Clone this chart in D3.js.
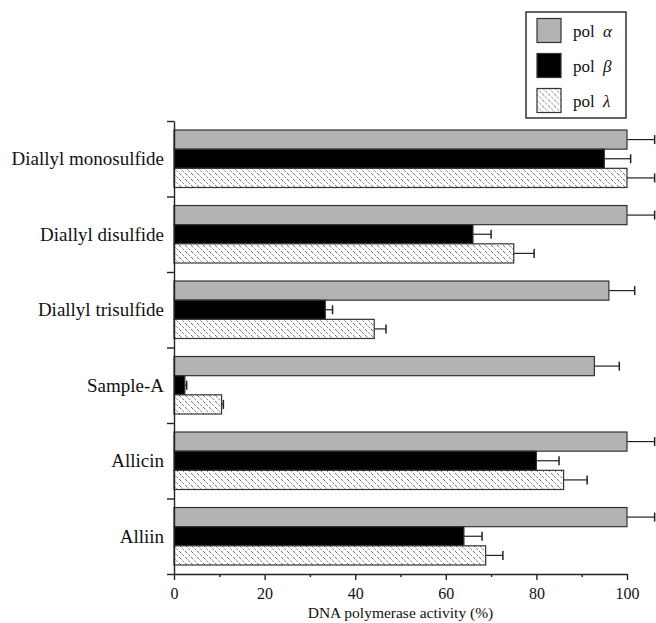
<!DOCTYPE html>
<html>
<head>
<meta charset="utf-8">
<script src="https://cdn.jsdelivr.net/npm/d3@7"></script>
<style>
  body { margin: 0; background: #fff; }
  svg text { font-family: "Liberation Serif", "DejaVu Serif", serif; fill: #111; }
</style>
</head>
<body>
<svg id="chart"></svg>
<script>
/* données */
const categories = ["Diallyl monosulfide", "Diallyl disulfide", "Diallyl trisulfide", "Sample-A", "Allicin", "Alliin"]
const seriesKeys = ["alpha", "beta", "lambda"]
const seriesGreek = ["α", "β", "λ"]
const polAlpha = [100, 100, 96, 92.8, 100, 100]
const polAlphaErr = [6.1, 6.1, 5.7, 5.5, 6.1, 6.1]
const polBeta = [95, 66, 33.4, 2.4, 80, 64]
const polBetaErr = [5.8, 4, 1.6, 0.4, 5, 4]
const polLambda = [100, 75, 44.2, 10.5, 86, 68.8]
const polLambdaErr = [6.1, 4.5, 2.6, 0.4, 5.2, 3.8]
const xMajorTicks = [0, 20, 40, 60, 80, 100]
const xMinorTicks = [10, 30, 50, 70, 90]

const width = 656, height = 623
const margin = {top: 121, right: 29, bottom: 49, left: 174}
const serif = '"Liberation Serif", "DejaVu Serif", serif'

const svg = d3.select('#chart').attr('width', width).attr('height', height)

const values = { alpha: polAlpha, beta: polBeta, lambda: polLambda }
const errors = { alpha: polAlphaErr, beta: polBetaErr, lambda: polLambdaErr }

/* échelles */
const xScale = d3.scaleLinear().domain([0, 100]).range([margin.left, width - margin.right])
const yScale = d3.scaleBand().domain(categories).range([margin.top, height - margin.bottom])
const yInner = d3.scaleBand().domain(seriesKeys).range([0, yScale.bandwidth()]).paddingOuter(0.47)
const yBounds = d3.scaleLinear().domain([0, categories.length]).range([margin.top, height - margin.bottom])

/* motif hachuré pour pol lambda */
const defs = svg.append('defs')
const pat = defs.append('pattern')
  .attr('id', 'hatch')
  .attr('patternUnits', 'userSpaceOnUse')
  .attr('width', 6).attr('height', 6)
pat.append('rect').attr('width', 6).attr('height', 6).attr('fill', '#fff')
pat.append('path')
  .attr('d', 'M0,0 L6,6 M-3,3 L3,9 M3,-3 L9,3')
  .attr('stroke', '#333')
  .attr('stroke-width', 1)
  .attr('stroke-dasharray', '1,1.4')

const fills = { alpha: '#b3b3b3', beta: '#000', lambda: 'url(#hatch)' }

/* barres */
const rows = []
categories.forEach((c, i) => {
  seriesKeys.forEach(k => rows.push({ cat: c, key: k, v: values[k][i], e: errors[k][i] }))
})

const g = svg.append('g')

/* barres d'erreur (derrière) */
g.selectAll('.err')
  .data(rows)
  .enter()
  .append('g')
  .attr('class', 'err')
  .each(function (d) {
    const yc = yScale(d.cat) + yInner(d.key) + yInner.bandwidth() / 2
    const sel = d3.select(this)
    sel.append('line')
      .attr('x1', xScale(d.v)).attr('x2', xScale(d.v + d.e))
      .attr('y1', yc).attr('y2', yc)
      .attr('stroke', '#222').attr('stroke-width', 1.2)
    sel.append('line')
      .attr('x1', xScale(d.v + d.e)).attr('x2', xScale(d.v + d.e))
      .attr('y1', yc - 4.5).attr('y2', yc + 4.5)
      .attr('stroke', '#222').attr('stroke-width', 1.5)
  })

g.selectAll('.bar')
  .data(rows)
  .enter()
  .append('rect')
  .attr('class', 'bar')
  .attr('x', xScale(0))
  .attr('y', d => yScale(d.cat) + yInner(d.key))
  .attr('width', d => xScale(d.v) - xScale(0))
  .attr('height', yInner.bandwidth())
  .attr('fill', d => fills[d.key])
  .attr('stroke', '#333')
  .attr('stroke-width', 1.2)

/* axe des x */
const xAxisMajor = d3.axisBottom(xScale).tickValues(xMajorTicks).tickSize(6).tickSizeOuter(0).tickPadding(8)
const xAxisMinor = d3.axisBottom(xScale).tickValues(xMinorTicks).tickSize(3).tickSizeOuter(0).tickFormat('')

const gxMinor = svg.append('g')
  .attr('transform', 'translate(0,' + (height - margin.bottom) + ')')
  .call(xAxisMinor)
gxMinor.select('.domain').remove()

const gx = svg.append('g')
  .attr('transform', 'translate(0,' + (height - margin.bottom) + ')')
  .call(xAxisMajor)
gx.attr('font-family', serif).attr('font-size', 16)
gx.selectAll('text').style('font-family', serif).style('font-size', '16px')

svg.selectAll('.tick line, .domain').attr('stroke', '#222').attr('stroke-width', 1.4)

/* axe des y : graduations aux limites des groupes */
const yAxis = d3.axisLeft(yBounds).tickValues(d3.range(categories.length + 1)).tickSize(7).tickSizeOuter(0).tickFormat('')
const gy = svg.append('g')
  .attr('transform', 'translate(' + margin.left + ',0)')
  .call(yAxis)
gy.selectAll('line, path').attr('stroke', '#222').attr('stroke-width', 1.4)

/* noms des catégories */
svg.append('g').selectAll('text')
  .data(categories)
  .enter()
  .append('text')
  .attr('x', margin.left - 10)
  .attr('y', d => yScale(d) + yScale.bandwidth() / 2)
  .attr('text-anchor', 'end')
  .attr('dominant-baseline', 'central')
  .style('font-family', serif)
  .style('font-size', '19px')
  .text(d => d)

/* titre de l'axe des x */
svg.append('text')
  .attr('x', (xScale(0) + xScale(100)) / 2)
  .attr('y', height - 5)
  .attr('text-anchor', 'middle')
  .style('font-family', serif)
  .style('font-size', '15.5px')
  .text('DNA polymerase activity (%)')

/* légende */
const legend = svg.append('g').attr('transform', 'translate(526,12)')
legend.append('rect')
  .attr('width', 100).attr('height', 106)
  .attr('fill', '#fff').attr('stroke', '#222').attr('stroke-width', 1.4)

seriesKeys.forEach((k, i) => {
  const row = legend.append('g').attr('transform', 'translate(11,' + (6.5 + i * 35) + ')')
  row.append('rect')
    .attr('width', 24).attr('height', 24)
    .attr('fill', fills[k]).attr('stroke', '#333').attr('stroke-width', 1.2)
  const t = row.append('text')
    .attr('x', 36).attr('y', 12)
    .attr('dominant-baseline', 'central')
    .style('font-family', serif)
    .style('font-size', '17px')
  t.append('tspan').text('pol ')
  t.append('tspan').attr('dx', 4).style('font-style', 'italic').text(seriesGreek[i])
})
</script>
</body>
</html>
